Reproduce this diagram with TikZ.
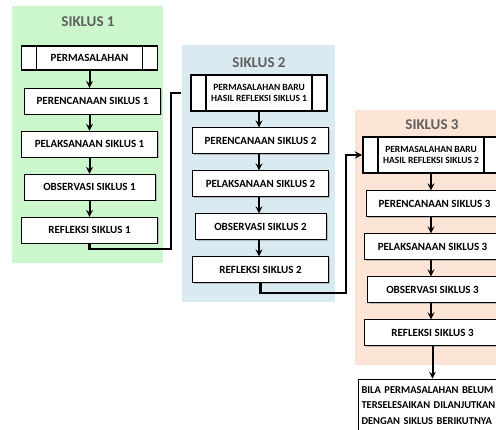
\documentclass[tikz,border=0pt]{standalone}
\usepackage{fontspec}
\setmainfont{Carlito}
\newfontfamily\rapat{Carlito}[WordSpace=0.55]
\usepackage{tikz}
\usetikzlibrary{shapes.geometric, arrows, shadows}

\definecolor{hijau}{RGB}{204,247,204}
\definecolor{biru}{RGB}{218,234,241}
\definecolor{jingga}{RGB}{252,228,214}
\definecolor{abu}{RGB}{96,96,96}

\begin{document}
\begin{tikzpicture}[x=1pt, y=1pt, node distance=43pt]
        \tikzstyle{latar} = [rectangle, draw=none, inner sep=0pt]
        \tikzstyle{judul} = [text=abu, font=\fontsize{15}{18}\selectfont\bfseries]
        \tikzstyle{masalah} = [rectangle, minimum width=136pt, minimum height=24pt, text centered, align=center, draw=black, line width=1.8pt, fill=white, font=\fontsize{11}{13}\selectfont\bfseries, path picture={
            \draw[line width=1.4pt] ([xshift=15pt]path picture bounding box.north west) -- ([xshift=15pt]path picture bounding box.south west);
            \draw[line width=1.4pt] ([xshift=-15pt]path picture bounding box.north east) -- ([xshift=-15pt]path picture bounding box.south east);}]
        \tikzstyle{proses} = [rectangle, minimum width=136pt, minimum height=26pt, text centered, draw=black, fill=white, drop shadow={shadow xshift=1.5pt, shadow yshift=-1.5pt, fill=black!45}, font=\fontsize{11}{13}\selectfont\bfseries]
        \tikzstyle{arrow} = [line width=2pt,->,>=stealth]
        \tikzstyle{sambung} = [line width=2.2pt]

        \useasboundingbox (0,0) rectangle (496,-430);
        \clip (0,0) rectangle (496,-430);
        \fill[white] (0,0) rectangle (496,-430);

        % latar siklus
        \node (latar1) [latar, fill=hijau, minimum width=151pt, minimum height=257pt] at (87.5,-134.5) {};
        \node (latar2) [latar, fill=biru, minimum width=153pt, minimum height=257pt] at (258.5,-173.5) {};
        \node (latar3) [latar, fill=jingga, minimum width=150pt, minimum height=255pt] at (430,-237.5) {};

        % siklus 1
        \node (judul1) [judul] at (88,-21.5) {SIKLUS 1};
        \node (perm1) [masalah] at (89.5,-58) {PERMASALAHAN};
        \node (per1) [proses, below of=perm1, xshift=3pt] {PERENCANAAN SIKLUS 1};
        \node (pel1) [proses, below of=per1, xshift=-3pt] {PELAKSANAAN SIKLUS 1};
        \node (obs1) [proses, below of=pel1, minimum width=131pt] {OBSERVASI SIKLUS 1};
        \node (ref1) [proses, below of=obs1] {REFLEKSI SIKLUS 1};

        % siklus 2
        \node (judul2) [judul] at (259,-63) {SIKLUS 2};
        \node (perm2) [masalah, minimum height=36pt, font=\fontsize{9.5}{10.5}\selectfont\bfseries] at (259,-93) {PERMASALAHAN BARU\\HASIL REFLEKSI SIKLUS 1};
        \node (per2) [proses, below of=perm2, xshift=1.5pt, yshift=-4.5pt] {PERENCANAAN SIKLUS 2};
        \node (pel2) [proses, below of=per2] {PELAKSANAAN SIKLUS 2};
        \node (obs2) [proses, below of=pel2, minimum width=131pt] {OBSERVASI SIKLUS 2};
        \node (ref2) [proses, below of=obs2] {REFLEKSI SIKLUS 2};

        % siklus 3
        \node (judul3) [judul] at (432,-125) {SIKLUS 3};
        \node (perm3) [masalah, minimum height=36pt, font=\fontsize{9.5}{10.5}\selectfont\bfseries] at (431,-155) {PERMASALAHAN BARU\\HASIL REFLEKSI SIKLUS 2};
        \node (per3) [proses, below of=perm3, xshift=3.5pt, yshift=-5.5pt] {PERENCANAAN SIKLUS 3};
        \node (pel3) [proses, below of=per3, xshift=-2pt] {PELAKSANAAN SIKLUS 3};
        \node (obs3) [proses, below of=pel3, minimum width=131pt] {OBSERVASI SIKLUS 3};
        \node (ref3) [proses, below of=obs3] {REFLEKSI SIKLUS 3};
        \node (lanjut) [rectangle, draw=black, fill=white, anchor=north west, minimum width=150pt, minimum height=53pt, text width=144pt, align=left, inner sep=3pt, font=\rapat\fontsize{10.5}{15.5}\selectfont\bfseries] at ([xshift=-6pt, yshift=-33pt]ref3.south west) {BILA PERMASALAHAN BELUM\\TERSELESAIKAN DILANJUTKAN\\DENGAN SIKLUS BERIKUTNYA};

        \draw [arrow] (perm1.south) -- (perm1.south |- per1.north);
        \draw [arrow] (perm1.south |- per1.south) -- (perm1.south |- pel1.north);
        \draw [arrow] (perm1.south |- pel1.south) -- (perm1.south |- obs1.north);
        \draw [arrow] (perm1.south |- obs1.south) -- (perm1.south |- ref1.north);

        \draw [arrow] (perm2.south) -- (perm2.south |- per2.north);
        \draw [arrow] (perm2.south |- per2.south) -- (perm2.south |- pel2.north);
        \draw [arrow] (perm2.south |- pel2.south) -- (perm2.south |- obs2.north);
        \draw [arrow] (perm2.south |- obs2.south) -- (perm2.south |- ref2.north);

        \draw [arrow] (perm3.south) -- (perm3.south |- per3.north);
        \draw [arrow] (perm3.south |- per3.south) -- (perm3.south |- pel3.north);
        \draw [arrow] (perm3.south |- pel3.south) -- (perm3.south |- obs3.north);
        \draw [arrow] (perm3.south |- obs3.south) -- (perm3.south |- ref3.north);
        \draw [arrow] (ref3.south) -- (ref3.south |- lanjut.north);

        \draw [sambung, shorten >=9pt] (ref1.south) -- ++(0,-6) -| ([xshift=-19pt]perm2.west) -- (perm2.west);
        \draw [arrow, sambung] (ref2.south) -- ++(0,-10) -| ([xshift=-16pt]perm3.west) -- (perm3.west);
    \end{tikzpicture}
\end{document}
